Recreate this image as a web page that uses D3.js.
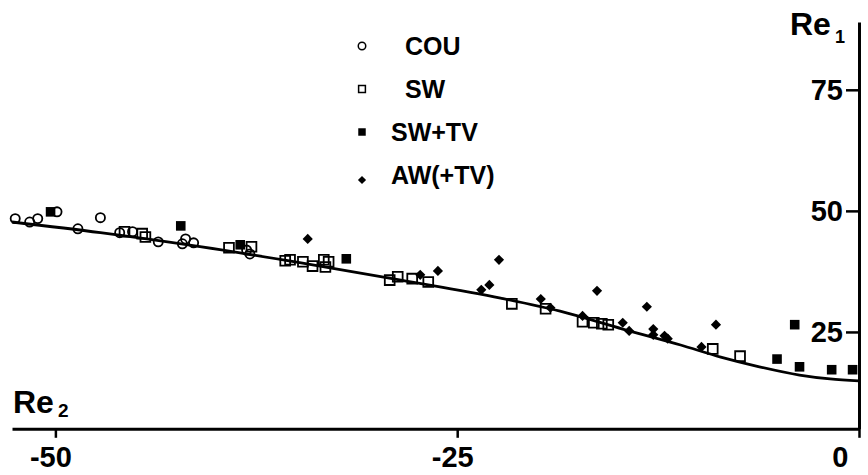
<!DOCTYPE html>
<html>
<head>
<meta charset="utf-8">
<script src="https://cdnjs.cloudflare.com/ajax/libs/d3/7.8.5/d3.min.js"></script>
<style>
  body { margin: 0; background: #fff; }
  text { font-family: "Liberation Sans", Arial, sans-serif; font-weight: bold; }
</style>
</head>
<body>
<script>
// data: [Re2, Re1]
var couPoints = [
  [-52.5, 48.4], [-51.6, 47.7], [-51.1, 48.4], [-49.9, 49.8], [-48.6, 46.3],
  [-47.2, 48.6], [-46.0, 45.5], [-45.2, 45.7], [-43.6, 43.6], [-41.9, 44.2],
  [-42.1, 43.2], [-41.4, 43.4], [-38.1, 41.9], [-37.9, 41.1]
];
var swPoints = [
  [-45.7, 45.7], [-44.6, 45.3], [-44.4, 44.6], [-39.2, 42.4], [-37.8, 42.6],
  [-35.7, 39.7], [-35.4, 39.9], [-34.6, 39.5], [-34.0, 38.6], [-33.3, 39.9],
  [-33.0, 39.5], [-33.2, 38.4], [-29.2, 35.7], [-28.7, 36.4], [-27.8, 36.0],
  [-26.8, 35.3], [-21.6, 30.8], [-19.5, 29.8], [-17.2, 27.1], [-16.5, 26.9],
  [-16.0, 26.7], [-15.6, 26.5], [-9.1, 21.5], [-7.4, 20.0]
];
var swTvPoints = [
  [-50.3, 49.8], [-42.2, 46.9], [-38.5, 43.0], [-31.9, 40.1], [-4.0, 26.5],
  [-5.1, 19.4], [-3.7, 17.8], [-1.7, 17.2], [-0.4, 17.2]
];
var awTvPoints = [
  [-34.3, 44.2], [-27.3, 36.8], [-26.2, 37.6], [-23.5, 33.7], [-23.0, 34.7],
  [-22.4, 39.9], [-19.8, 31.8], [-19.2, 30.0], [-17.2, 28.3], [-16.3, 33.5],
  [-14.7, 26.9], [-14.3, 25.2], [-13.2, 30.2], [-12.8, 25.6], [-12.8, 24.4],
  [-12.1, 24.2], [-11.9, 23.6], [-9.8, 21.9], [-8.9, 26.5]
];
// fitted curve
var curvePoints = [
  [-52.7, 47.7], [-47.2, 45.5], [-41.0, 42.6], [-34.8, 39.3], [-28.5, 35.7],
  [-22.3, 32.0], [-18.6, 29.3], [-14.7, 25.6], [-11.1, 22.3], [-8.6, 19.8],
  [-6.2, 17.8], [-3.7, 16.1], [-1.8, 15.3], [0, 14.9]
];
var xTicks = [-50, -25, 0];
var yTicks = [25, 50, 75];
var legendLabels = ["  COU", "  SW", "SW+TV", "AW(+TV)"];

var width = 868, height = 475;

var svg = d3.select("body")
  .append("svg")
    .attr("width", width)
    .attr("height", height);

// scales (axes cross at Re2 = 0, Re1 = 5)
var x = d3.scaleLinear().domain([-52.7, 0]).range([12, 859]);
var y = d3.scaleLinear().domain([5, 89]).range([428.8, 22]);

// plain hyphen minus like the original
var fmt = function(d) { return String(d); };

// x axis
var xAxis = svg.append("g")
  .attr("transform", "translate(0," + y(5) + ")")
  .call(d3.axisBottom(x).tickValues(xTicks).tickFormat(fmt).tickSize(9).tickSizeOuter(0).tickPadding(9));
xAxis.selectAll("text")
  .style("font-size", "29px")
  .attr("fill", "#000")
  .attr("dx", "-5");
xAxis.selectAll(".tick").filter(function(d) { return d === 0; }).select("text")
  .attr("text-anchor", "end")
  .attr("dx", "0")
  .attr("x", -11);

// y axis
var yAxis = svg.append("g")
  .attr("transform", "translate(" + x(0) + ",0)")
  .call(d3.axisLeft(y).tickValues(yTicks).tickFormat(fmt).tickSize(13).tickSizeOuter(0).tickPadding(3));
yAxis.selectAll("text")
  .style("font-size", "29px")
  .attr("fill", "#000");

svg.selectAll(".domain").attr("stroke", "#000").attr("stroke-width", 3);
svg.selectAll(".tick line").attr("stroke", "#000").attr("stroke-width", 2.5);

// axis titles
var re2 = svg.append("text").attr("x", 13).attr("y", 413).style("font-size", "32px");
re2.append("tspan").text("Re");
re2.append("tspan").attr("dx", 4).attr("dy", 4).style("font-size", "19px").text("2");
var re1 = svg.append("text").attr("x", 790).attr("y", 35).style("font-size", "32px");
re1.append("tspan").text("Re");
re1.append("tspan").attr("dx", 4).attr("dy", 8).style("font-size", "18px").text("1");

// the curve
var line = d3.line()
  .x(function(d) { return x(d[0]); })
  .y(function(d) { return y(d[1]); })
  .curve(d3.curveMonotoneX);
svg.append("path")
  .datum(curvePoints)
  .attr("d", line)
  .attr("fill", "none")
  .attr("stroke", "#000")
  .attr("stroke-width", 2.8);

// marker shapes
var circleSym = d3.symbol().type(d3.symbolCircle).size(66);
var squareSym = d3.symbol().type(d3.symbolSquare).size(96);
var filledSym = d3.symbol().type(d3.symbolSquare).size(92);
var diamondSym = d3.symbol().type(d3.symbolSquare).size(52);

function drawPoints(data, sym, fill, rot) {
  svg.append("g")
    .selectAll("path")
    .data(data)
    .enter()
    .append("path")
      .attr("d", sym)
      .attr("transform", function(d) { return "translate(" + x(d[0]) + "," + y(d[1]) + ") rotate(" + rot + ")"; })
      .attr("fill", fill)
      .attr("stroke", "#000")
      .attr("stroke-width", fill === "none" ? 1.8 : 0);
}

drawPoints(couPoints, circleSym, "none", 0);
drawPoints(swPoints, squareSym, "none", 0);
drawPoints(awTvPoints, diamondSym, "#000", 45);
drawPoints(swTvPoints, filledSym, "#000", 0);

// legend
var legendSyms = [
  d3.symbol().type(d3.symbolCircle).size(44),
  d3.symbol().type(d3.symbolSquare).size(46),
  d3.symbol().type(d3.symbolSquare).size(56),
  d3.symbol().type(d3.symbolSquare).size(34)
];
var legendFill = ["none", "none", "#000", "#000"];
var legend = svg.append("g");
legendLabels.forEach(function(lab, i) {
  var cy = 46 + i * 43;
  legend.append("path")
    .attr("d", legendSyms[i])
    .attr("transform", "translate(362," + (i === 3 ? cy + 5 : cy) + ") rotate(" + (i === 3 ? 45 : 0) + ")")
    .attr("fill", legendFill[i])
    .attr("stroke", "#000")
    .attr("stroke-width", legendFill[i] === "none" ? 1.5 : 0);
  legend.append("text")
    .attr("x", 391)
    .attr("y", cy + 9)
    .style("font-size", "25px")
    .style("white-space", "pre")
    .attr("xml:space", "preserve")
    .text(lab);
});
</script>
</body>
</html>
